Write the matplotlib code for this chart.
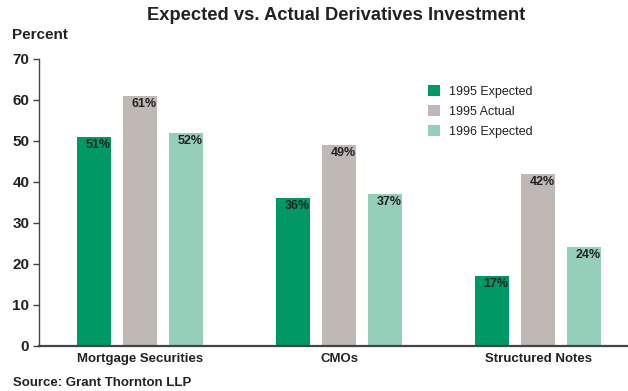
import matplotlib
matplotlib.use("Agg")
import matplotlib.pyplot as plt
import numpy as np

categories = ["Mortgage Securities", "CMOs", "Structured Notes"]
series_names = ["1995 Expected", "1995 Actual", "1996 Expected"]
expected_1995 = [51, 36, 17]
actual_1995 = [61, 49, 42]
expected_1996 = [52, 37, 24]
yticks = [0, 10, 20, 30, 40, 50, 60, 70]

colors = ["#009966", "#BFB8B5", "#96CFB9"]
txt = "#222222"
plt.rcParams['font.family'] = ['Liberation Sans', 'DejaVu Sans']

fig = plt.figure(figsize=(6.28, 3.91), dpi=100)
ax = fig.add_axes([39/628, 1-345.7/391, 1-39/628, (345.7-58.8)/391])

x = np.arange(len(categories))
width = 34/199
step = 46/199
series = [expected_1995, actual_1995, expected_1996]
for i, (vals, name, c) in enumerate(zip(series, series_names, colors)):
    pos = x + (i-1)*step
    ax.bar(pos, vals, width=width, color=c, label=name, zorder=2)
    for p, v in zip(pos, vals):
        ax.annotate(f"{v}%", (p + 0.02, v), xytext=(0, -1.5), textcoords="offset points",
                    ha="center", va="top", fontsize=9, fontweight="bold", color=txt, zorder=3)

ax.set_xlim(-0.508, 2.452)
ax.set_ylim(0, 70)
ax.set_yticks(yticks)
ax.set_yticklabels([str(t) for t in yticks], fontsize=11, fontweight="bold", color=txt)
ax.set_xticks(x)
ax.set_xticklabels(categories, fontsize=9.5, fontweight="bold", color=txt)
ax.tick_params(axis="x", length=0, pad=5)
ax.tick_params(axis="y", length=4, width=1, color="#444444", pad=3, direction="out")
for s in ["top", "right"]:
    ax.spines[s].set_visible(False)
ax.spines["left"].set_color("#444444")
ax.spines["left"].set_linewidth(1)
ax.spines["bottom"].set_color("#444444")
ax.spines["bottom"].set_linewidth(1.6)

leg = ax.legend(loc="upper left", bbox_to_anchor=((428-39)/589, 1-(85-58.8)/286.9),
                frameon=False, fontsize=9, handlelength=0.95, handleheight=0.95,
                handletextpad=0.7, labelspacing=0.6, borderaxespad=0, borderpad=0)
for t in leg.get_texts():
    t.set_color(txt)

fig.text(336/628, 1-16/391, "Expected vs. Actual Derivatives Investment", ha="center", va="center",
         fontsize=13.2, fontweight="bold", color=txt)
fig.text(12/628, 1-35/391, "Percent", ha="left", va="center", fontsize=11, fontweight="bold", color=txt)
fig.text(13/628, 1-383/391, "Source: Grant Thornton LLP", ha="left", va="center", fontsize=9.5,
         fontweight="bold", color=txt)

fig.savefig("out.png", dpi=100)
